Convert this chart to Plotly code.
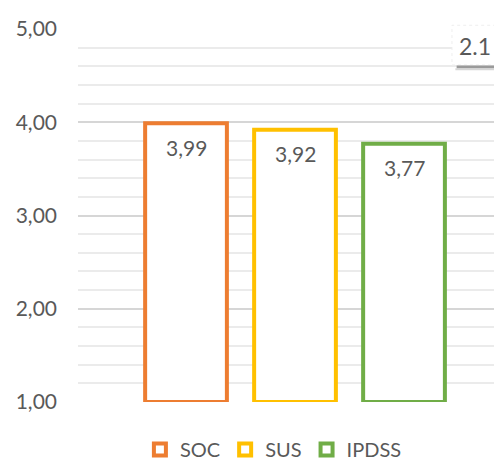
import plotly.graph_objects as go

categories = ["SOC", "SUS", "IPDSS"]
values = [3.99, 3.92, 3.77]
labels = ["3,99", "3,92", "3,77"]
colors = ["#ED7D31", "#FFC000", "#70AD47"]
y_ticks = [1, 2, 3, 4, 5]
y_ticklabels = ["1,00", "2,00", "3,00", "4,00", "5,00"]
base_value = 1

FONT = "Lato, Liberation Sans, sans-serif"
GREY = "#595959"

fig = go.Figure()
for i, (cat, v, c) in enumerate(zip(categories, values, colors)):
    fig.add_trace(go.Bar(
        x=[i], y=[v - base_value], base=[base_value], name=cat,
        width=0.75,
        marker=dict(color="white", line=dict(color=c, width=4)),
        hoverinfo="skip",
    ))
    fig.add_annotation(x=i, y=v, text=labels[i], showarrow=False, yshift=-24,
                       font=dict(family=FONT, size=21, color=GREY))

# text box in top right
fig.add_shape(type="rect", xref="paper", yref="paper", x0=0.882, x1=1.05, y0=0.9035, y1=1.01,
              fillcolor="white", line=dict(color="#eeeeee", width=1, dash="dot"), layer="above")
fig.add_shape(type="line", xref="paper", yref="paper", x0=0.893, x1=1.05, y0=0.898, y1=0.898,
              line=dict(color="#9a9a9a", width=3), layer="above")
fig.add_shape(type="line", xref="paper", yref="paper", x0=0.89, x1=1.05, y0=0.892, y1=0.892,
              line=dict(color="#d6d6d6", width=2), layer="above")
fig.add_annotation(xref="paper", yref="paper", x=0.893, y=0.955, xanchor="left", yanchor="middle",
                   text="2.1", showarrow=False, font=dict(family=FONT, size=23, color=GREY))

fig.update_layout(
    width=494, height=455,
    margin=dict(l=70, r=0, t=21, b=61, autoexpand=False),
    paper_bgcolor="white", plot_bgcolor="white",
    barmode="overlay",
    showlegend=True,
    legend=dict(orientation="h", x=0.146, xanchor="left", y=-0.075, yanchor="top",
                font=dict(family=FONT, size=20, color=GREY), itemwidth=30,
                tracegroupgap=0, traceorder="normal"),
    xaxis=dict(range=[-0.991, 2.899], visible=False, automargin=False),
    yaxis=dict(range=[1, 5], tickvals=y_ticks, ticktext=y_ticklabels, automargin=False,
               showgrid=True, gridcolor="#d6d6d6", gridwidth=1.5,
               zeroline=False, showline=False, ticks="", ticklabelstandoff=20,
               tickfont=dict(family=FONT, size=21, color=GREY),
               minor=dict(dtick=0.2, showgrid=True, gridcolor="#ebebeb", gridwidth=1.5)),
)

fig.write_html("out.html")
